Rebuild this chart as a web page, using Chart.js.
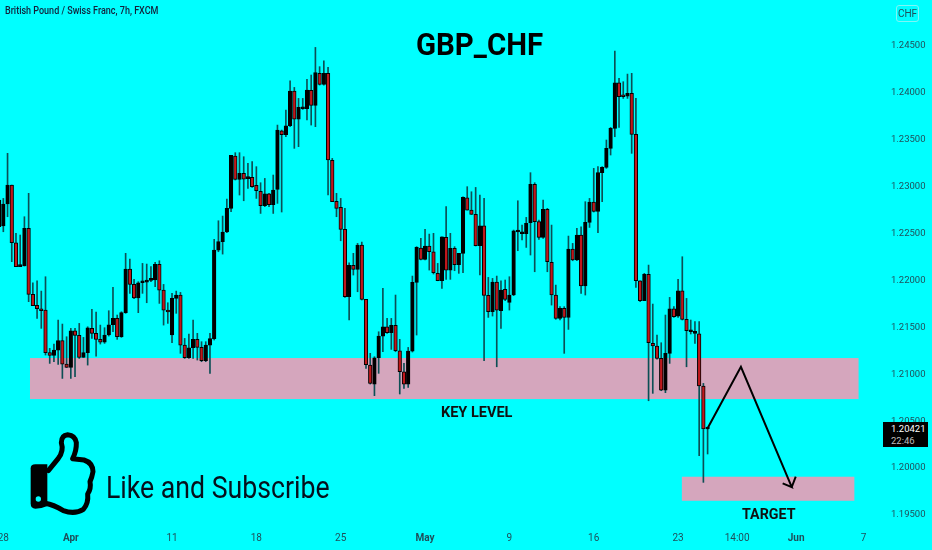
<!DOCTYPE html>
<html>
<head>
<meta charset="utf-8">
<script src="https://cdn.jsdelivr.net/npm/chart.js@4"></script>
<style>
html,body{margin:0;padding:0;background:#00ffff;}
#wrap{position:relative;width:932px;height:550px;overflow:hidden;background:#00ffff;font-family:Roboto,sans-serif;}
canvas{position:absolute;left:0;top:0;}
.t{position:absolute;white-space:nowrap;line-height:1;transform-origin:left top;}
</style>
</head>
<body>
<div id="wrap">
<canvas id="c" width="932" height="550"></canvas>
<div class="t" style="left:5px;top:6px;font-size:10px;font-weight:500;color:#131f3a;transform:scaleX(.9);">British Pound / Swiss Franc, 7h, FXCM</div>
<div class="t" style="left:416px;top:29px;font-size:31px;font-weight:700;color:#000;transform:scaleX(.95);">GBP_CHF</div>
<div class="t" style="left:441px;top:406px;font-size:14.5px;font-weight:700;color:#111;">KEY LEVEL</div>
<div class="t" style="left:742px;top:507px;font-size:15px;font-weight:700;color:#111;transform:scaleX(.95);">TARGET</div>
<div class="t" style="left:106px;top:472px;font-size:31px;font-weight:400;color:#06101c;transform:scaleX(.86);">Like and Subscribe</div>
<div class="t" style="left:896px;top:5px;width:21px;height:15px;border:1px solid #7ff5f5;border-radius:3px;font-size:10px;line-height:15px;text-align:center;color:#1f4f5a;">CHF</div>
<div class="t" style="left:883px;top:422px;width:45px;height:25px;background:#000;"></div>
<div class="t" style="left:891px;top:424px;font-size:9.5px;color:#fff;">1.20421</div>
<div class="t" style="left:891px;top:435.5px;font-size:9.5px;color:#bdbdbd;">22:46</div>
<svg style="position:absolute;left:0;top:420px;" width="350" height="130" viewBox="0 0 1050 390">
<path d="M145,152 L175,115 Q192,92 184,68 Q184,46 203,44 Q226,46 229,68 Q230,92 218,116 L252,120 Q278,128 279,155 Q276,172 270,185 Q274,205 263,222 Q266,250 250,268 Q225,284 190,272 Q160,254 136,250" fill="none" stroke="#000" stroke-width="15" stroke-linejoin="round" stroke-linecap="round"/>
<path d="M92,145 Q92,133 106,133 L142,133 L142,258 Q125,266 106,266 Q92,266 92,250 Z" fill="#000"/>
<circle cx="115" cy="237" r="8" fill="#00ffff"/>
</svg>
</div>
<script>
const candleOpen=[1.22570,1.22578,1.22812,1.23014,1.22400,1.22145,1.22152,1.22553,1.21850,1.21733,1.21697,1.21683,1.21229,1.21200,1.21257,1.21357,1.21108,1.21072,1.21463,1.21413,1.21179,1.21229,1.21488,1.21435,1.21371,1.21342,1.21417,1.21527,1.21594,1.21399,1.21655,1.22120,1.21956,1.21811,1.21974,1.21981,1.21999,1.22003,1.22169,1.21896,1.21683,1.21417,1.21807,1.21843,1.21310,1.21175,1.21282,1.21371,1.21285,1.21143,1.21310,1.21378,1.22322,1.22411,1.22514,1.22766,1.23323,1.23075,1.23139,1.23082,1.23096,1.23011,1.22947,1.22794,1.22922,1.22805,1.22968,1.23593,1.23550,1.23646,1.24015,1.23717,1.23827,1.23827,1.24022,1.23863,1.24204,1.24086,1.24204,1.23277,1.22840,1.22776,1.22542,1.21825,1.22159,1.22116,1.22375,1.21797,1.21097,1.20895,1.21175,1.21406,1.21505,1.21442,1.21520,1.21250,1.21026,1.20895,1.21246,1.21978,1.22343,1.22223,1.22365,1.22304,1.22074,1.21995,1.22457,1.22109,1.22340,1.22166,1.22287,1.22879,1.22748,1.22702,1.22368,1.22581,1.21839,1.21665,1.21981,1.21676,1.21903,1.21765,1.21843,1.22514,1.22496,1.22496,1.22613,1.23021,1.22624,1.22457,1.22755,1.22191,1.21843,1.21594,1.21701,1.21605,1.22333,1.22216,1.22482,1.21939,1.22617,1.22833,1.22734,1.23146,1.23203,1.23405,1.23618,1.24104,1.23962,1.23962,1.23991,1.23554,1.21995,1.21783,1.22063,1.21328,1.21300,1.21168,1.20831,1.21222,1.21697,1.21619,1.21889,1.21584,1.21452,1.21435,1.21431,1.20874,1.20416];
const candleHigh=[1.22872,1.22872,1.23352,1.23014,1.22500,1.22482,1.22677,1.22926,1.21974,1.21995,1.21885,1.22038,1.21275,1.21321,1.21577,1.21534,1.21399,1.21488,1.21488,1.21541,1.21392,1.21505,1.21690,1.21662,1.21523,1.21495,1.21676,1.21924,1.21630,1.21665,1.22287,1.22226,1.22010,1.21985,1.22180,1.22173,1.22145,1.22191,1.22208,1.21956,1.21761,1.21861,1.21885,1.21871,1.21381,1.21428,1.21577,1.21435,1.21346,1.21346,1.21435,1.22436,1.22634,1.22684,1.22865,1.23330,1.23359,1.23359,1.23316,1.23245,1.23263,1.23210,1.23039,1.23085,1.22926,1.23121,1.23653,1.23600,1.23813,1.24125,1.24054,1.23937,1.23937,1.24140,1.24186,1.24480,1.24275,1.24338,1.24267,1.23298,1.22926,1.22872,1.22766,1.22187,1.22287,1.22393,1.22407,1.21797,1.21222,1.21186,1.21452,1.21914,1.21594,1.21594,1.21843,1.21371,1.21115,1.21285,1.22045,1.22358,1.22446,1.22542,1.22492,1.22500,1.22180,1.22464,1.22784,1.22500,1.22358,1.22287,1.22890,1.22997,1.22943,1.22989,1.22908,1.22872,1.22031,1.22020,1.22045,1.21995,1.22003,1.22038,1.22535,1.22847,1.22588,1.22670,1.23146,1.23039,1.22642,1.22855,1.22766,1.22588,1.21949,1.21719,1.21719,1.22471,1.22393,1.22553,1.22570,1.22837,1.22872,1.23192,1.23210,1.23210,1.23494,1.23628,1.24441,1.24150,1.24115,1.24196,1.24204,1.23937,1.21995,1.22074,1.22162,1.21747,1.21417,1.21335,1.21630,1.21818,1.21719,1.22010,1.22251,1.21807,1.21577,1.21559,1.21559,1.20902,1.20432];
const candleLow=[1.22535,1.22517,1.22677,1.22198,1.22145,1.22145,1.22152,1.21772,1.21729,1.21594,1.21488,1.21204,1.21115,1.21133,1.21104,1.20955,1.21072,1.20955,1.20973,1.21168,1.21179,1.21097,1.21381,1.21193,1.21321,1.21328,1.21406,1.21452,1.21371,1.21392,1.21648,1.21861,1.21804,1.21655,1.21861,1.21761,1.21985,1.21931,1.21754,1.21523,1.21541,1.21335,1.21648,1.21222,1.21168,1.21168,1.21168,1.21151,1.21133,1.21133,1.21009,1.21364,1.22304,1.22279,1.22507,1.22730,1.23068,1.22908,1.22847,1.22979,1.22989,1.22872,1.22712,1.22784,1.22784,1.22712,1.22819,1.22727,1.23529,1.23636,1.23405,1.23423,1.23820,1.23707,1.23653,1.23636,1.24079,1.24079,1.22908,1.22837,1.22677,1.22421,1.21818,1.21577,1.22056,1.21878,1.21790,1.21062,1.20895,1.20771,1.21009,1.21239,1.21435,1.21264,1.21239,1.20789,1.20849,1.20859,1.21236,1.21417,1.22216,1.22216,1.22109,1.22067,1.21995,1.21914,1.22010,1.22010,1.22102,1.22074,1.22081,1.22748,1.22702,1.22365,1.22056,1.21143,1.21605,1.21619,1.21079,1.21488,1.21783,1.21683,1.21836,1.22315,1.22429,1.22350,1.22269,1.22091,1.22436,1.22446,1.22091,1.21736,1.21584,1.21577,1.21222,1.21477,1.22208,1.22208,1.21861,1.21843,1.22563,1.22727,1.22507,1.22837,1.23192,1.23334,1.23529,1.23628,1.23937,1.23937,1.23352,1.21924,1.21772,1.21783,1.20717,1.20796,1.21161,1.20824,1.20803,1.21115,1.21605,1.21605,1.21577,1.21079,1.21428,1.21328,1.20132,1.19848,1.20150];
const candleClose=[1.22855,1.22812,1.23014,1.22400,1.22145,1.22152,1.22553,1.21850,1.21729,1.21697,1.21676,1.21229,1.21200,1.21257,1.21357,1.21108,1.21072,1.21463,1.21413,1.21179,1.21229,1.21495,1.21435,1.21371,1.21342,1.21417,1.21527,1.21594,1.21399,1.21655,1.22120,1.21956,1.21811,1.21974,1.21981,1.21999,1.22003,1.22169,1.21896,1.21683,1.21662,1.21807,1.21843,1.21310,1.21175,1.21282,1.21371,1.21285,1.21143,1.21310,1.21378,1.22322,1.22411,1.22514,1.22766,1.23330,1.23075,1.23139,1.23078,1.23096,1.22997,1.22954,1.22794,1.22922,1.22805,1.22961,1.23600,1.23550,1.23646,1.24015,1.23717,1.23841,1.23841,1.24026,1.23863,1.24211,1.24086,1.24204,1.23281,1.22837,1.22766,1.22542,1.21825,1.22159,1.22116,1.22375,1.21797,1.21101,1.20902,1.21175,1.21406,1.21505,1.21442,1.21520,1.21250,1.21026,1.20895,1.21246,1.21978,1.22350,1.22223,1.22365,1.22304,1.22081,1.21995,1.22464,1.22109,1.22340,1.22166,1.22287,1.22883,1.22748,1.22702,1.22368,1.22581,1.21839,1.21665,1.21981,1.21683,1.21896,1.21797,1.21843,1.22528,1.22524,1.22503,1.22606,1.23021,1.22624,1.22457,1.22755,1.22198,1.21843,1.21594,1.21701,1.21605,1.22333,1.22216,1.22482,1.21939,1.22617,1.22833,1.22734,1.23146,1.23203,1.23405,1.23618,1.24104,1.23955,1.23955,1.23991,1.23554,1.21995,1.21783,1.22063,1.21335,1.21300,1.21168,1.20831,1.21222,1.21697,1.21612,1.21889,1.21584,1.21463,1.21459,1.21445,1.20874,1.20416,1.20421];
const priceTicks=[1.195,1.2,1.205,1.21,1.215,1.22,1.225,1.23,1.235,1.24,1.245];
const timeTickAt=[1,17,41,61,81,101,121,141,161,175,189,205];
const timeTickLabels=["28","Apr","11","18","25","May","9","16","23","14:00","Jun","7"];
const boldTimeLabels=["Apr","May","Jun"];
const keyLevelZone=[7.32,203.8,1.20735,1.21172];
const targetZone=[161.9,202.8,1.19652,1.19908];
const arrowAt=[167.9,175.9,187.96,185.8,187.96,188.9];
const arrowPrice=[1.20416,1.21079,1.19798,1.19838,1.19798,1.19908];

const idx=candleOpen.map((_,i)=>i);
const zonePlugin={id:'zones',beforeDatasetsDraw(chart){
  const {ctx,scales:{x,y}}=chart;
  ctx.save();
  ctx.fillStyle='#d5a6bd';
  for(const z of [keyLevelZone,targetZone]){
    const l=x.getPixelForValue(z[0]),r=x.getPixelForValue(z[1]);
    const t=y.getPixelForValue(z[3]),b=y.getPixelForValue(z[2]);
    ctx.fillRect(l,t,r-l,b-t);
  }
  ctx.restore();
}};
const isUp=i=>candleClose[i]>=candleOpen[i];
new Chart(document.getElementById('c'),{
  type:'bar',
  plugins:[zonePlugin],
  data:{datasets:[
    {label:'wicks',order:3,grouped:false,barThickness:1,backgroundColor:'#0c4f55',borderWidth:0,
     data:idx.map(i=>({x:i,y:[candleLow[i],candleHigh[i]]}))},
    {label:'bodies',order:2,grouped:false,barThickness:3.6,minBarLength:2,borderSkipped:false,borderWidth:1,borderColor:'#000',
     backgroundColor:idx.map(i=>isUp(i)?'#000':'#c0181c'),
     data:idx.map(i=>({x:i,y:[candleOpen[i],candleClose[i]]}))},
    {label:'path',type:'line',order:1,borderColor:'#000',borderWidth:2,pointRadius:0,tension:0,fill:false,
     data:arrowAt.map((a,i)=>({x:a,y:arrowPrice[i]}))}
  ]},
  options:{
    responsive:false,animation:false,devicePixelRatio:1,
    layout:{padding:0},
    plugins:{legend:{display:false},tooltip:{enabled:false},title:{display:false}},
    scales:{
      x:{type:'linear',min:0.21,max:208.88,offset:false,
        grid:{display:false,tickLength:0},border:{display:false},
        afterBuildTicks(a){a.ticks=timeTickAt.map(v=>({value:v}));},
        afterFit(a){a.height=22;a.paddingLeft=0;a.paddingRight=0;},
        ticks:{autoSkip:false,maxRotation:0,padding:4,color:'#1f4f5a',
          font(c){const l=timeTickLabels[timeTickAt.indexOf(c.tick&&c.tick.value)];
            return {family:'Roboto',size:10,weight:boldTimeLabels.includes(l)?'700':'400'};},
          callback(v){return timeTickLabels[timeTickAt.indexOf(v)];}}
      },
      y:{type:'linear',position:'right',min:1.19362,max:1.24985,
        grid:{display:false,tickLength:0},border:{display:false},
        afterBuildTicks(a){a.ticks=priceTicks.map(v=>({value:v}));},
        afterFit(a){a.width=52;a.paddingTop=0;a.paddingBottom=0;},
        ticks:{padding:11,color:'#1f4f5a',font:{family:'Roboto',size:9.5},
          callback(v){return v.toFixed(5);}}
      }
    }
  }
});
</script>
</body>
</html>
